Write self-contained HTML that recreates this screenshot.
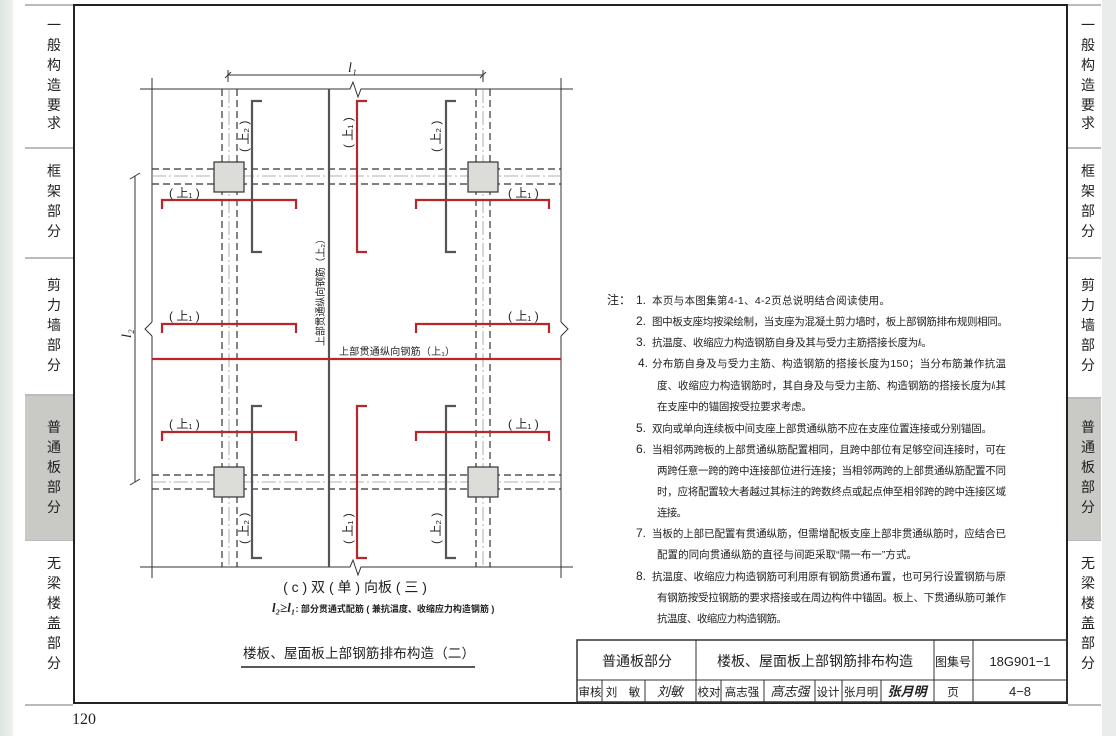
<!DOCTYPE html>
<html><head><meta charset="utf-8"><style>
html,body{margin:0;padding:0;background:#fff;}
svg{display:block;}
text{font-family:"Liberation Sans","Noto Sans CJK SC",sans-serif;fill:#222;}
</style></head><body>
<svg width="1116" height="736" viewBox="0 0 1116 736" xmlns="http://www.w3.org/2000/svg">
<defs><linearGradient id="lg" x1="0" x2="1"><stop offset="0" stop-color="#dfe6e0"/><stop offset="1" stop-color="#eef1ef"/></linearGradient></defs>
<rect width="1116" height="736" fill="#fff"/>
<rect x="0" y="0" width="13" height="736" fill="url(#lg)"/>
<rect x="1102" y="0" width="14" height="736" fill="#e9ecea"/>
<g stroke="#777" stroke-width="1">
<line x1="25" y1="5" x2="73" y2="5"/><line x1="25" y1="148" x2="73" y2="148"/><line x1="25" y1="258" x2="73" y2="258"/><line x1="25" y1="395" x2="73" y2="395"/><line x1="25" y1="540" x2="73" y2="540"/><line x1="25" y1="705" x2="73" y2="705"/>
<line x1="1068" y1="5" x2="1101" y2="5"/><line x1="1068" y1="148" x2="1101" y2="148"/><line x1="1068" y1="258" x2="1101" y2="258"/><line x1="1068" y1="398" x2="1101" y2="398"/><line x1="1068" y1="540" x2="1101" y2="540"/><line x1="1068" y1="705" x2="1101" y2="705"/>
</g>
<rect x="25" y="396" width="48" height="144" fill="#c9c9c6"/>
<rect x="1068" y="399" width="33" height="141" fill="#c9c9c6"/>
<g font-size="14" text-anchor="middle">
<text x="54" y="30">一</text><text x="54" y="50">般</text><text x="54" y="70">构</text><text x="54" y="90">造</text><text x="54" y="110">要</text><text x="54" y="128">求</text>
<text x="54" y="176">框</text><text x="54" y="196">架</text><text x="54" y="216">部</text><text x="54" y="236">分</text>
<text x="54" y="290">剪</text><text x="54" y="310">力</text><text x="54" y="330">墙</text><text x="54" y="350">部</text><text x="54" y="370">分</text>
<text x="54" y="432">普</text><text x="54" y="452">通</text><text x="54" y="472">板</text><text x="54" y="492">部</text><text x="54" y="512">分</text>
<text x="54" y="568">无</text><text x="54" y="588">梁</text><text x="54" y="608">楼</text><text x="54" y="628">盖</text><text x="54" y="648">部</text><text x="54" y="668">分</text>
<text x="1088" y="30">一</text><text x="1088" y="50">般</text><text x="1088" y="70">构</text><text x="1088" y="90">造</text><text x="1088" y="110">要</text><text x="1088" y="128">求</text>
<text x="1088" y="176">框</text><text x="1088" y="196">架</text><text x="1088" y="216">部</text><text x="1088" y="236">分</text>
<text x="1088" y="290">剪</text><text x="1088" y="310">力</text><text x="1088" y="330">墙</text><text x="1088" y="350">部</text><text x="1088" y="370">分</text>
<text x="1088" y="432">普</text><text x="1088" y="452">通</text><text x="1088" y="472">板</text><text x="1088" y="492">部</text><text x="1088" y="512">分</text>
<text x="1088" y="568">无</text><text x="1088" y="588">梁</text><text x="1088" y="608">楼</text><text x="1088" y="628">盖</text><text x="1088" y="648">部</text><text x="1088" y="668">分</text>
</g>
<text x="72" y="724" font-size="16" style="font-family:'Liberation Serif',serif">120</text>
<rect x="74" y="5" width="993" height="698" fill="none" stroke="#222" stroke-width="2"/>

<g stroke="#333" stroke-width="1" fill="none">
<line x1="228" y1="75" x2="483" y2="75"/>
<line x1="225" y1="78" x2="231" y2="72"/><line x1="480" y1="78" x2="486" y2="72"/>
<line x1="228" y1="70" x2="228" y2="82"/><line x1="483" y1="70" x2="483" y2="82"/>
<polyline points="140,89 350,89 353,82 358,97 361,89 573,89"/>
<polyline points="140,567 350,567 353,560 358,575 361,567 573,567"/>
<line x1="152" y1="78" x2="152" y2="322"/><polyline points="152,322 145,329 152,336"/><line x1="152" y1="336" x2="152" y2="578"/>
<line x1="561" y1="78" x2="561" y2="322"/><polyline points="561,322 568,329 561,336"/><line x1="561" y1="336" x2="561" y2="578"/>
<line x1="135" y1="176" x2="135" y2="482"/>
<line x1="130" y1="179" x2="140" y2="173"/><line x1="130" y1="485" x2="140" y2="479"/>
</g>
<g stroke="#333" stroke-width="1.2" stroke-dasharray="7,4" fill="none">
<line x1="222" y1="89" x2="222" y2="567"/><line x1="237" y1="89" x2="237" y2="567"/>
<line x1="476" y1="89" x2="476" y2="567"/><line x1="490" y1="89" x2="490" y2="567"/>
<line x1="152" y1="169" x2="561" y2="169"/><line x1="152" y1="184" x2="561" y2="184"/>
<line x1="152" y1="475" x2="561" y2="475"/><line x1="152" y1="489" x2="561" y2="489"/>
</g>
<g stroke="#999" stroke-width="0.8" stroke-dasharray="14,3,2,3" fill="none">
<line x1="229" y1="89" x2="229" y2="567"/><line x1="483" y1="89" x2="483" y2="567"/>
<line x1="152" y1="176" x2="561" y2="176"/><line x1="152" y1="482" x2="561" y2="482"/>
</g>
<g fill="#dcdcd8" stroke="#333" stroke-width="1.2">
<rect x="214" y="162" width="30" height="30"/><rect x="468" y="162" width="30" height="30"/>
<rect x="214" y="467" width="30" height="30"/><rect x="468" y="467" width="30" height="30"/>
</g>
<g stroke="#555" stroke-width="2.2" fill="none">
<line x1="329" y1="89" x2="329" y2="567"/>
<polyline points="262,101 252,101 252,252 262,252"/>
<polyline points="456,101 446,101 446,252 456,252"/>
<polyline points="262,406 252,406 252,558 262,558"/>
<polyline points="456,406 446,406 446,558 456,558"/>
</g>
<g stroke="#b8262a" stroke-width="2.2" fill="none">
<line x1="152" y1="359" x2="561" y2="359"/>
<polyline points="367,101 357,101 357,252 367,252"/>
<polyline points="367,406 357,406 357,558 367,558"/>
<polyline points="162,209 162,200 296,200 296,209"/><polyline points="416,209 416,200 549,200 549,209"/>
<polyline points="162,333 162,324 296,324 296,333"/><polyline points="416,333 416,324 549,324 549,333"/>
<polyline points="162,441 162,432 296,432 296,441"/><polyline points="416,441 416,432 549,432 549,441"/>
</g>
<g font-size="12">
<text x="169" y="197">( 上₁ )</text><text x="508" y="197">( 上₁ )</text>
<text x="169" y="320">( 上₁ )</text><text x="508" y="320">( 上₁ )</text>
<text x="169" y="428">( 上₁ )</text><text x="508" y="428">( 上₁ )</text>
<text x="0" y="0" transform="translate(248,152) rotate(-90)">( 上₂ )</text>
<text x="0" y="0" transform="translate(440,152) rotate(-90)">( 上₂ )</text>
<text x="0" y="0" transform="translate(352,148) rotate(-90)">( 上₁ )</text>
<text x="0" y="0" transform="translate(248,544) rotate(-90)">( 上₂ )</text>
<text x="0" y="0" transform="translate(440,544) rotate(-90)">( 上₂ )</text>
<text x="0" y="0" transform="translate(352,544) rotate(-90)">( 上₁ )</text>
<text x="0" y="0" transform="translate(324,346) rotate(-90)" font-size="10" textLength="112" lengthAdjust="spacing">上部贯通纵向钢筋（上₂）</text>
<text x="339" y="355" font-size="10" textLength="116" lengthAdjust="spacing">上部贯通纵向钢筋（上₁）</text>
</g>
<text x="348" y="72" font-size="14" font-style="italic" style="font-family:'Liberation Serif',serif">l₁</text>
<text x="0" y="0" transform="translate(131,338) rotate(-90)" font-size="14" font-style="italic" style="font-family:'Liberation Serif',serif">l₂</text>
<text x="355" y="592" font-size="14" text-anchor="middle">( c ) 双 ( 单 ) 向板 ( 三 )</text>
<text x="272" y="612" font-size="9" font-weight="bold"><tspan font-style="italic" font-size="13" style="font-family:'Liberation Serif',serif">l₂≥l₁</tspan>: 部分贯通式配筋 ( 兼抗温度、收缩应力构造钢筋 )</text>
<text x="243" y="658" font-size="13.5" textLength="232" lengthAdjust="spacing">楼板、屋面板上部钢筋排布构造（二）</text>
<line x1="241" y1="667" x2="475" y2="667" stroke="#222" stroke-width="1.5"/>

<g font-size="10.5">
<text x="607" y="304" font-size="12">注：</text>
<text x="636" y="304" font-size="12">1.</text><text x="652" y="304" textLength="238" lengthAdjust="spacing">本页与本图集第4-1、4-2页总说明结合阅读使用。</text>
<text x="636" y="325" font-size="12">2.</text><text x="652" y="325" textLength="356" lengthAdjust="spacing">图中板支座均按梁绘制，当支座为混凝土剪力墙时，板上部钢筋排布规则相同。</text>
<text x="636" y="346" font-size="12">3.</text><text x="652" y="346" textLength="280" lengthAdjust="spacing">抗温度、收缩应力构造钢筋自身及其与受力主筋搭接长度为<tspan font-style="italic">l</tspan>ₗ。</text>
<text x="638" y="367" font-size="12">4.</text><text x="652" y="367" textLength="354" lengthAdjust="spacing">分布筋自身及与受力主筋、构造钢筋的搭接长度为150；当分布筋兼作抗温</text>
<text x="657" y="389" textLength="349" lengthAdjust="spacing">度、收缩应力构造钢筋时，其自身及与受力主筋、构造钢筋的搭接长度为<tspan font-style="italic">l</tspan>ₗ其</text>
<text x="657" y="410" textLength="155" lengthAdjust="spacing">在支座中的锚固按受拉要求考虑。</text>
<text x="636" y="432" font-size="12">5.</text><text x="652" y="432" textLength="340" lengthAdjust="spacing">双向或单向连续板中间支座上部贯通纵筋不应在支座位置连接或分别锚固。</text>
<text x="636" y="453" font-size="12">6.</text><text x="652" y="453" textLength="354" lengthAdjust="spacing">当相邻两跨板的上部贯通纵筋配置相同，且跨中部位有足够空间连接时，可在</text>
<text x="657" y="474" textLength="349" lengthAdjust="spacing">两跨任意一跨的跨中连接部位进行连接；当相邻两跨的上部贯通纵筋配置不同</text>
<text x="657" y="495" textLength="349" lengthAdjust="spacing">时，应将配置较大者越过其标注的跨数终点或起点伸至相邻跨的跨中连接区域</text>
<text x="657" y="516" textLength="30" lengthAdjust="spacing">连接。</text>
<text x="636" y="537" font-size="12">7.</text><text x="652" y="537" textLength="354" lengthAdjust="spacing">当板的上部已配置有贯通纵筋，但需增配板支座上部非贯通纵筋时，应结合已</text>
<text x="657" y="558" textLength="260" lengthAdjust="spacing">配置的同向贯通纵筋的直径与间距采取“隔一布一”方式。</text>
<text x="636" y="580" font-size="12">8.</text><text x="652" y="580" textLength="354" lengthAdjust="spacing">抗温度、收缩应力构造钢筋可利用原有钢筋贯通布置，也可另行设置钢筋与原</text>
<text x="657" y="601" textLength="349" lengthAdjust="spacing">有钢筋按受拉钢筋的要求搭接或在周边构件中锚固。板上、下贯通纵筋可兼作</text>
<text x="657" y="622" textLength="130" lengthAdjust="spacing">抗温度、收缩应力构造钢筋。</text>
</g>

<g stroke="#333" stroke-width="1" fill="none">
<rect x="577" y="640" width="490" height="62" stroke-width="1.5"/>
<line x1="577" y1="680" x2="1067" y2="680"/>
<line x1="696" y1="640" x2="696" y2="702"/><line x1="934" y1="640" x2="934" y2="702"/><line x1="973" y1="640" x2="973" y2="702"/>
<line x1="602" y1="680" x2="602" y2="702"/><line x1="645" y1="680" x2="645" y2="702"/><line x1="721" y1="680" x2="721" y2="702"/>
<line x1="764" y1="680" x2="764" y2="702"/><line x1="815" y1="680" x2="815" y2="702"/><line x1="842" y1="680" x2="842" y2="702"/><line x1="881" y1="680" x2="881" y2="702"/>
</g>
<g font-size="14" text-anchor="middle">
<text x="637" y="666">普通板部分</text>
<text x="815" y="666">楼板、屋面板上部钢筋排布构造</text>
<text x="953" y="666" font-size="12">图集号</text>
<text x="1020" y="666" font-size="13">18G901−1</text>
</g>
<g font-size="11.5" text-anchor="middle">
<text x="590" y="696">审核</text><text x="623" y="696">刘　敏</text>
<text x="670" y="696" font-style="italic" font-size="13">刘敏</text>
<text x="709" y="696">校对</text><text x="742" y="696">高志强</text>
<text x="790" y="696" font-style="italic" font-size="13">高志强</text>
<text x="828" y="696">设计</text><text x="861" y="696">张月明</text>
<text x="907" y="696" font-style="italic" font-weight="bold" font-size="13">张月明</text>
<text x="953" y="696">页</text><text x="1020" y="696" font-size="13">4−8</text>
</g>
</svg>
</body></html>
